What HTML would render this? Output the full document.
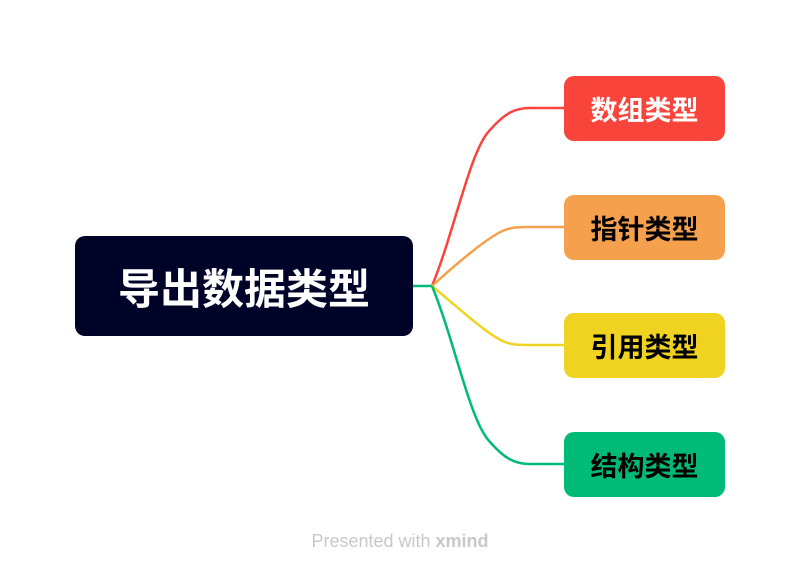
<!DOCTYPE html>
<html><head><meta charset="utf-8"><style>
body{margin:0;width:801px;height:573px;background:#fff;overflow:hidden;position:relative;font-family:"Liberation Sans","Noto Sans CJK SC",sans-serif}
.n{position:absolute;display:flex;align-items:center;justify-content:center;font-weight:bold;border-radius:10px}
.c{left:564px;width:161px;height:65px;font-size:27px;color:#000}
</style></head><body>
<svg width="801" height="573" style="position:absolute;left:0;top:0">
<path d="M413 286H432" stroke="#00bb77" stroke-width="2.5" fill="none"/>
<path d="M432 286C455 230 470 150 490 130C505 113 515 108 530 108H564" stroke="#f8443b" stroke-width="2.5" fill="none"/>
<path d="M432 286C455 265 490 235 505 230C512 227 520 227 530 227H564" stroke="#f5a04d" stroke-width="2.5" fill="none"/>
<path d="M432 286C455 305 490 337 505 342C512 345 520 345 530 345H564" stroke="#f0d321" stroke-width="2.5" fill="none"/>
<path d="M432 286C455 342 470 422 490 442C505 459 515 464 530 464H564" stroke="#00bb77" stroke-width="2.5" fill="none"/>
</svg>
<div class="n" style="left:75px;top:236px;width:338px;height:100px;background:#000328;color:#fff;font-size:42px">导出数据类型</div>
<div class="n c" style="top:76px;background:#f8443b;color:#fff">数组类型</div>
<div class="n c" style="top:195px;background:#f5a04d">指针类型</div>
<div class="n c" style="top:313px;background:#f0d321">引用类型</div>
<div class="n c" style="top:432px;background:#00bb77">结构类型</div>
<div style="position:absolute;left:290px;top:531px;width:220px;text-align:center;font-size:18px;color:#c8c8c8">Presented with <b>xmind</b></div>
</body></html>
